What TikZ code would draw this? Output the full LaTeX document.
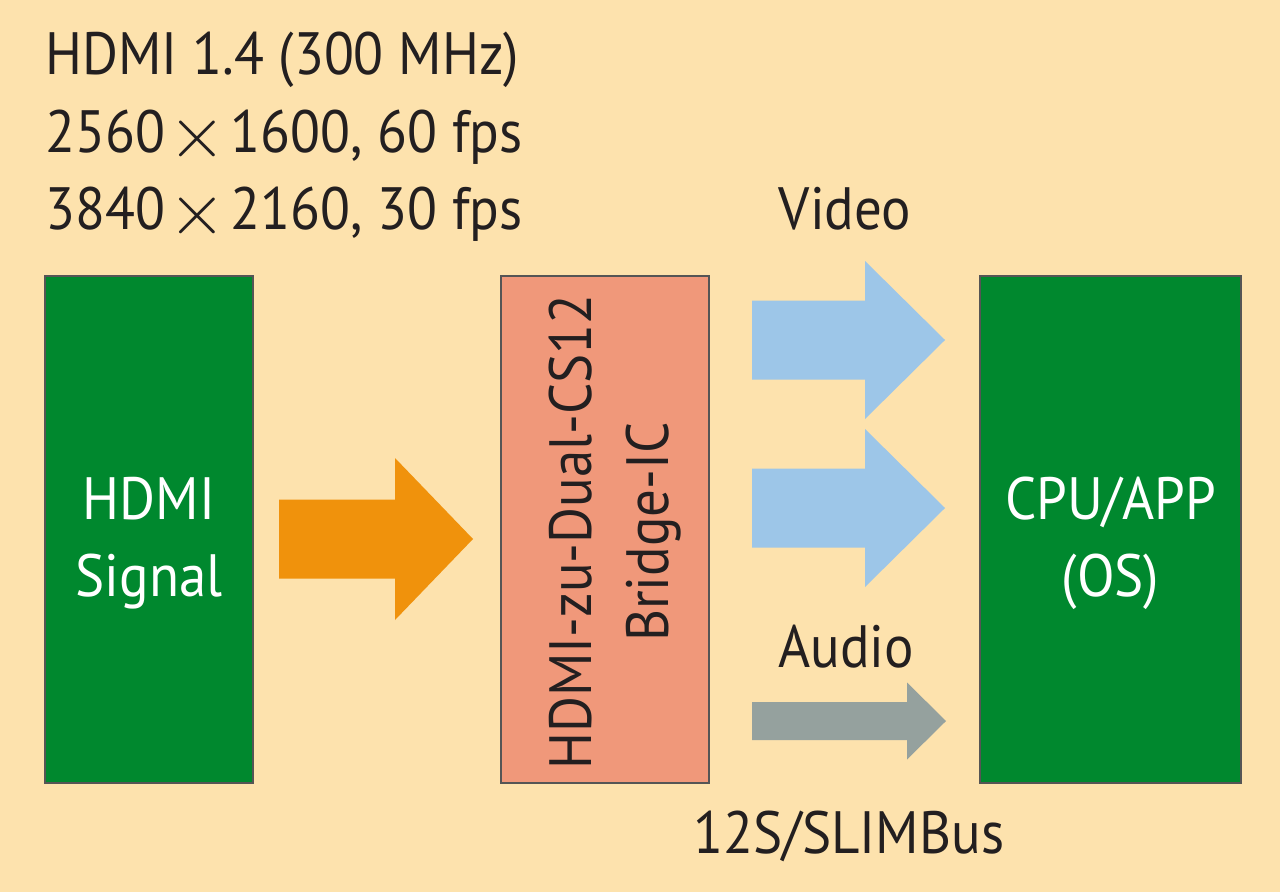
\documentclass[tikz,border=0pt]{standalone}
\usepackage{fontspec}
\setmainfont[FakeStretch=0.92]{PT Sans}
\usetikzlibrary{positioning}
\definecolor{bgcream}{HTML}{FDE2AD}
\definecolor{boxgreen}{HTML}{00882E}
\definecolor{bridgesalmon}{HTML}{F0987A}
\definecolor{arrorange}{HTML}{F0920C}
\definecolor{arrblue}{HTML}{9DC6E8}
\definecolor{arrgray}{HTML}{95A19E}
\definecolor{boxedge}{HTML}{555555}
\definecolor{ink}{HTML}{231F20}
\tikzset{block/.style={draw=boxedge, line width=1.2pt, inner sep=0pt,
        minimum width=4.16cm, minimum height=10.14cm},
    boxtext/.style={inner sep=0pt, align=center, font=\fontsize{34}{44}\selectfont},
    caption/.style={inner sep=0pt, text=ink, font=\fontsize{34}{44}\selectfont}}
\newcommand\bigtimes{\kern0.05em\smash{\raisebox{-0.09em}{\scalebox{1.7}{$\times$}}}\kern0.08em}
% block arrow: colour, tail x, head x, tip x, mid y, shaft half, head half
\newcommand\blockarrow[7]{\fill[#1] (#2,#5-#6) -- (#3,#5-#6) -- (#3,#5-#7) -- (#4,#5)
    -- (#3,#5+#7) -- (#3,#5+#6) -- (#2,#5+#6) -- cycle;}

\begin{document}
\begin{tikzpicture}[x=0.02cm, y=-0.02cm]
    \fill[bgcream] (0,0) rectangle (1280,892);
    % the three blocks
    \node[block, fill=boxgreen] (hdmi) at (149,529.5) {};
    \node[block, fill=bridgesalmon] (bridge) at (605,529.5) {};
    \node[block, fill=boxgreen, minimum width=5.22cm] (cpu) at (1110.5,529.5) {};
    \node[boxtext, text=white, yshift=-0.28cm] (hdmitext) at (hdmi.center) {HDMI\\Signal};
    \node[boxtext, text=ink, rotate=90] (bridgetext) at ([xshift=0.2cm, yshift=-0.05cm]bridge.center)
        {HDMI-zu-Dual-CS12\\Bridge-IC};
    \node[boxtext, text=white, yshift=-0.28cm] (cputext) at (cpu.center) {CPU/APP\\(OS)};
    % labels
    \node[caption, anchor=west, align=left] (spec) at (45,137)
        {HDMI 1.4 (300 MHz)\\2560\bigtimes1600, 60 fps\\3840\bigtimes2160, 30 fps};
    \node[caption, anchor=base] (video) at (845,229) {Video};
    \node[caption, anchor=base] (audio) at (846,667) {Audio};
    \node[caption, anchor=base] (bus) at (849,853) {12S/SLIMBus};
    % block arrows
    \blockarrow{arrorange}{279}{395}{473}{539}{39.5}{81}
    \blockarrow{arrblue}{752}{865}{945}{340}{39.5}{79}
    \blockarrow{arrblue}{752}{865}{945}{508}{39.5}{79}
    \blockarrow{arrgray}{752}{907}{946}{721}{19}{38.5}
\end{tikzpicture}
\end{document}
